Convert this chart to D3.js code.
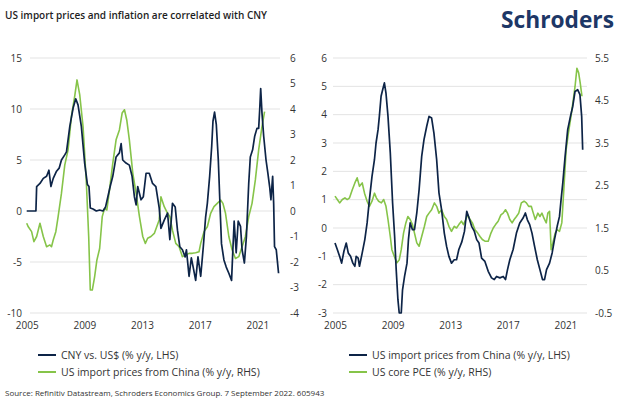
<!DOCTYPE html>
<html>
<head>
<meta charset="utf-8">
<script src="https://cdn.jsdelivr.net/npm/d3@7.9.0/dist/d3.min.js"></script>
<style>
  body { margin: 0; background: #fff; }
  svg { display: block; font-family: "Open Sans", sans-serif; }
</style>
</head>
<body>
<div id="chart"></div>
<script>
// readings are [decimal year, value]
const years = [2005, 2009, 2013, 2017, 2021];

const cnyVsUsd = [
  [2005.00, 0], [2005.64, 0], [2005.69, 2.4], [2005.92, 2.7], [2006.15, 3.2], [2006.38, 3.4],
  [2006.54, 4.0], [2006.68, 2.4], [2006.84, 3.2], [2007.07, 3.9], [2007.25, 4.2], [2007.41, 5.0],
  [2007.64, 5.5], [2007.76, 5.8], [2007.99, 8.3], [2008.22, 10.1], [2008.40, 11.0], [2008.56, 10.4],
  [2008.79, 8.3], [2009.02, 4.7], [2009.21, 2.6], [2009.32, 2.4], [2009.41, 0.3], [2009.60, 0.2],
  [2009.83, 0], [2010.06, 0.1], [2010.29, 0], [2010.47, 0.4], [2010.63, 1.4], [2010.79, 2.4],
  [2010.97, 3.4], [2011.20, 5.3], [2011.43, 5.7], [2011.55, 6.6], [2011.66, 5.0], [2011.89, 4.7],
  [2012.12, 4.5], [2012.31, 3.4], [2012.47, 1.4], [2012.59, 0.6], [2012.70, 2.4], [2012.93, 1.1],
  [2013.09, 1.4], [2013.28, 3.7], [2013.50, 3.7], [2013.73, 2.7], [2013.96, 2.4], [2014.19, 0.3],
  [2014.31, -1.7], [2014.54, -0.9], [2014.77, -0.2], [2014.93, -2.8], [2015.11, 0.75], [2015.30, 0.4],
  [2015.46, -1.9], [2015.62, -3.5], [2015.80, -3.8], [2015.99, -4.5], [2016.08, -3.8], [2016.26, -6.4],
  [2016.42, -4.6], [2016.56, -5.6], [2016.72, -6.8], [2016.88, -4.5], [2017.07, -6.4], [2017.25, -3.5],
  [2017.41, -0.6], [2017.53, 0.75], [2017.69, 3.4], [2017.83, 6.3], [2017.92, 8.8], [2018.03, 9.7],
  [2018.15, 8.5], [2018.29, 5.0], [2018.42, 0.1], [2018.51, -3.2], [2018.68, -4.8], [2018.84, -5.5],
  [2019.02, -6.1], [2019.21, -6.8], [2019.30, -3.8], [2019.39, -1.0], [2019.53, -4.1], [2019.67, -1.0],
  [2019.83, -1.5], [2019.94, -3.8], [2020.10, -5.1], [2020.24, -2.5], [2020.40, 2.7], [2020.51, 5.3],
  [2020.67, 6.0], [2020.81, 7.3], [2020.97, 8.1], [2021.09, 8.1], [2021.16, 9.9], [2021.23, 12.0],
  [2021.32, 9.6], [2021.44, 7.3], [2021.60, 5.0], [2021.73, 3.7], [2021.85, 2.4], [2021.94, 1.1],
  [2022.06, 3.4], [2022.13, 0.75], [2022.19, -3.5], [2022.31, -3.8], [2022.47, -6.1]
];

const importPricesRhs = [
  [2005.00, -0.48], [2005.11, -0.62], [2005.34, -0.81], [2005.50, -1.2], [2005.69, -1.0], [2005.92, -0.48],
  [2006.15, -1.0], [2006.38, -1.4], [2006.61, -1.33], [2006.72, -1.4], [2006.84, -1.14], [2007.02, -0.81],
  [2007.18, -0.22], [2007.41, 0.69], [2007.64, 1.8], [2007.87, 2.4], [2008.10, 3.7], [2008.33, 4.5],
  [2008.49, 5.14], [2008.68, 4.55], [2008.91, 3.3], [2009.14, 1.09], [2009.30, -1.0], [2009.41, -3.1],
  [2009.55, -3.1], [2009.71, -2.58], [2009.87, -1.92], [2010.06, -1.47], [2010.24, -0.22], [2010.40, 0.1],
  [2010.56, 0.04], [2010.74, 0.82], [2010.97, 1.87], [2011.20, 2.79], [2011.43, 3.18], [2011.62, 3.84],
  [2011.78, 3.97], [2011.94, 3.57], [2012.12, 2.79], [2012.36, 1.48], [2012.59, 0.69], [2012.82, -0.22],
  [2013.05, -1.0], [2013.23, -1.27], [2013.39, -1.07], [2013.62, -1.0], [2013.85, -0.88], [2014.19, -0.35],
  [2014.31, 0.56], [2014.54, 0.17], [2014.77, -0.09], [2014.93, -0.22], [2015.11, -0.75], [2015.34, -1.27],
  [2015.57, -1.4], [2015.80, -1.79], [2016.03, -1.73], [2016.26, -1.66], [2016.49, -1.66], [2016.72, -1.64],
  [2016.95, -1.6], [2017.07, -1.27], [2017.30, -0.81], [2017.53, -0.62], [2017.76, -0.09], [2017.99, 0.17],
  [2018.22, 0.3], [2018.45, 0.43], [2018.61, 0.3], [2018.79, -0.09], [2019.02, -1.0], [2019.25, -1.53],
  [2019.48, -1.86], [2019.71, -1.79], [2019.94, -1.4], [2020.17, -1.0], [2020.40, -0.22], [2020.63, 0.3],
  [2020.86, 1.22], [2021.09, 2.4], [2021.32, 3.31], [2021.50, 3.9]
];

const importPricesLhs = [
  [2005.00, -0.53], [2005.16, -0.76], [2005.32, -1.0], [2005.46, -1.24], [2005.62, -0.82], [2005.78, -0.53],
  [2005.92, -0.88], [2006.08, -1.0], [2006.24, -1.24], [2006.38, -1.35], [2006.47, -1.0], [2006.61, -1.06],
  [2006.70, -1.35], [2006.89, -0.88], [2007.07, -0.41], [2007.23, 0.18], [2007.39, 1.0], [2007.57, 1.82],
  [2007.74, 2.41], [2007.85, 3.0], [2007.99, 3.47], [2008.08, 3.94], [2008.20, 4.65], [2008.31, 4.88],
  [2008.43, 5.12], [2008.54, 4.76], [2008.68, 3.94], [2008.84, 2.65], [2009.00, 0.88], [2009.14, -0.29],
  [2009.25, -1.47], [2009.37, -2.53], [2009.46, -3.0], [2009.60, -3.0], [2009.69, -2.18], [2009.83, -1.71],
  [2010.00, -1.24], [2010.10, -0.41], [2010.22, 0.18], [2010.38, -0.06], [2010.52, -0.06], [2010.68, 0.53],
  [2010.84, 1.35], [2011.02, 2.53], [2011.18, 3.12], [2011.37, 3.59], [2011.53, 3.94], [2011.71, 3.88],
  [2011.87, 3.35], [2012.06, 2.41], [2012.22, 1.24], [2012.40, 0.65], [2012.59, -0.18], [2012.75, -0.65],
  [2012.91, -1.0], [2013.09, -1.24], [2013.28, -1.12], [2013.44, -1.12], [2013.60, -0.76], [2013.80, -0.5],
  [2013.99, -0.12], [2014.15, 0.59], [2014.31, 0.35], [2014.49, 0.06], [2014.68, -0.12], [2014.84, -0.41],
  [2015.00, -0.53], [2015.18, -1.06], [2015.41, -1.18], [2015.64, -1.53], [2015.87, -1.76], [2016.06, -1.82],
  [2016.22, -1.71], [2016.45, -1.76], [2016.68, -1.71], [2016.84, -1.82], [2016.98, -1.47], [2017.14, -1.12],
  [2017.37, -0.76], [2017.60, -0.18], [2017.83, 0.18], [2018.06, 0.35], [2018.22, 0.53], [2018.36, 0.29],
  [2018.52, 0.12], [2018.68, -0.18], [2018.86, -0.65], [2019.05, -1.12], [2019.23, -1.47], [2019.41, -1.82],
  [2019.55, -1.82], [2019.69, -1.47], [2019.90, -1.24], [2020.08, -0.88], [2020.24, -0.41], [2020.43, 0.06],
  [2020.59, 0.41], [2020.70, 1.0], [2020.82, 1.59], [2020.98, 2.53], [2021.16, 3.47], [2021.35, 3.94],
  [2021.51, 4.29], [2021.67, 4.82], [2021.85, 4.88], [2022.01, 4.71], [2022.13, 3.94], [2022.20, 2.76]
];

const corePce = [
  [2005.00, 2.25], [2005.16, 2.17], [2005.32, 2.09], [2005.51, 2.17], [2005.69, 2.21], [2005.85, 2.17],
  [2006.01, 2.21], [2006.20, 2.40], [2006.38, 2.56], [2006.54, 2.68], [2006.70, 2.48], [2006.89, 2.56],
  [2007.05, 2.32], [2007.23, 2.13], [2007.39, 2.01], [2007.57, 2.13], [2007.74, 2.32], [2007.87, 2.21],
  [2008.03, 2.13], [2008.22, 2.09], [2008.38, 2.17], [2008.54, 2.01], [2008.68, 1.70], [2008.84, 1.30],
  [2008.95, 0.99], [2009.12, 0.83], [2009.30, 0.68], [2009.46, 0.75], [2009.60, 0.99], [2009.76, 1.38],
  [2009.92, 1.62], [2010.06, 1.77], [2010.22, 1.70], [2010.38, 1.58], [2010.52, 1.38], [2010.68, 1.15],
  [2010.84, 1.07], [2011.02, 1.30], [2011.21, 1.54], [2011.37, 1.77], [2011.53, 1.85], [2011.71, 1.93],
  [2011.90, 2.09], [2012.06, 2.01], [2012.22, 1.85], [2012.40, 1.93], [2012.59, 1.77], [2012.75, 1.70],
  [2012.91, 1.54], [2013.09, 1.42], [2013.28, 1.54], [2013.44, 1.50], [2013.60, 1.58], [2013.78, 1.66],
  [2013.92, 1.58], [2014.08, 1.70], [2014.22, 1.81], [2014.38, 1.70], [2014.54, 1.62], [2014.72, 1.46],
  [2014.91, 1.38], [2015.07, 1.30], [2015.23, 1.23], [2015.41, 1.19], [2015.64, 1.19], [2015.83, 1.38],
  [2015.99, 1.50], [2016.15, 1.58], [2016.33, 1.66], [2016.52, 1.81], [2016.68, 1.85], [2016.84, 1.93],
  [2016.98, 1.85], [2017.14, 1.70], [2017.30, 1.62], [2017.44, 1.70], [2017.60, 1.77], [2017.76, 1.85],
  [2017.94, 2.09], [2018.13, 2.13], [2018.29, 2.09], [2018.45, 2.01], [2018.63, 2.01], [2018.77, 1.85],
  [2018.91, 1.70], [2019.09, 1.85], [2019.23, 1.77], [2019.37, 1.85], [2019.51, 1.73], [2019.67, 1.62],
  [2019.78, 1.85], [2019.90, 1.89], [2020.01, 0.99], [2020.13, 1.15], [2020.29, 1.38], [2020.43, 1.46],
  [2020.59, 1.42], [2020.75, 1.62], [2020.89, 2.40], [2021.05, 3.34], [2021.21, 3.74], [2021.39, 4.13],
  [2021.55, 4.52], [2021.67, 4.83], [2021.80, 5.26], [2021.92, 5.15], [2022.03, 4.91], [2022.15, 4.60]
];

const leftTicksLhs = [-10, -5, 0, 5, 10, 15];
const leftTicksRhs = [-4, -3, -2, -1, 0, 1, 2, 3, 4, 5, 6];
const rightTicksLhs = [-3, -2, -1, 0, 1, 2, 3, 4, 5, 6];
const rightTicksRhs = [-0.5, 0.5, 1.5, 2.5, 3.5, 4.5, 5.5];

const legendLeft = ["CNY vs. US$ (% y/y, LHS)", "US import prices from China (% y/y, RHS)"];
const legendRight = ["US import prices from China (% y/y, LHS)", "US core PCE (% y/y, RHS)"];

const NAVY = "#0d2447";
const GREEN = "#86c449";
const GRID = "#e3e3e3";
const TEXT = "#333";

const CONFIG = {
  WIDTH: 622,
  HEIGHT: 406,
  TOP: 58,
  BOTTOM: 313,
  AXIS_Y: 320
};

const svg = d3.select("#chart").append("svg")
  .attr("width", CONFIG.WIDTH)
  .attr("height", CONFIG.HEIGHT);

svg.append("text")
  .attr("x", 5).attr("y", 19)
  .attr("font-size", 11)
  .attr("font-weight", 600)
  .attr("fill", "#1e1e1e")
  .attr("textLength", 262)
  .attr("lengthAdjust", "spacingAndGlyphs")
  .text("US import prices and inflation are correlated with CNY");

svg.append("text")
  .attr("x", 501).attr("y", 28)
  .attr("font-size", 23)
  .attr("font-weight", 700)
  .attr("fill", "#1d3766")
  .attr("textLength", 113)
  .attr("lengthAdjust", "spacingAndGlyphs")
  .text("Schroders");

function drawPanel(p) {
  const g = svg.append("g");
  const x = d3.scaleLinear().domain([2005, 2022.5]).range(p.xRange);
  const yL = d3.scaleLinear().domain(p.lhsDomain).range([CONFIG.BOTTOM, CONFIG.TOP]);
  const yR = d3.scaleLinear().domain(p.rhsDomain).range([CONFIG.BOTTOM, CONFIG.TOP]);

  // gridlines follow the left axis
  g.selectAll(".grid")
    .data(p.lhsTicks)
    .join("line")
    .attr("x1", p.grid[0]).attr("x2", p.grid[1])
    .attr("y1", d => yL(d)).attr("y2", d => yL(d))
    .attr("stroke", GRID)
    .attr("stroke-width", 1);

  const left = g.append("g")
    .attr("transform", `translate(${p.lhsX},0)`)
    .call(d3.axisLeft(yL).tickValues(p.lhsTicks).tickSize(0).tickPadding(0).tickFormat(d => String(d)));

  const right = g.append("g")
    .attr("transform", `translate(${p.rhsX},0)`)
    .call(d3.axisRight(yR).tickValues(p.rhsTicks).tickSize(0).tickPadding(0).tickFormat(d => String(d)));

  const bottom = g.append("g")
    .attr("transform", `translate(0,${CONFIG.AXIS_Y})`)
    .call(d3.axisBottom(x).tickValues(years).tickSize(0).tickPadding(2).tickFormat(d3.format("d")));

  [left, right, bottom].forEach(a => {
    a.select(".domain").remove();
    a.selectAll("text")
      .attr("font-family", "Open Sans, sans-serif")
      .attr("font-size", 10)
      .attr("fill", TEXT);
  });

  const lineL = d3.line().x(d => x(d[0])).y(d => yL(d[1]));
  const lineR = d3.line().x(d => x(d[0])).y(d => yR(d[1]));

  g.append("path")
    .datum(p.green)
    .attr("d", lineR)
    .attr("fill", "none")
    .attr("stroke", GREEN)
    .attr("stroke-width", 1.6)
    .attr("stroke-linejoin", "round");

  g.append("path")
    .datum(p.navy)
    .attr("d", lineL)
    .attr("fill", "none")
    .attr("stroke", NAVY)
    .attr("stroke-width", 1.7)
    .attr("stroke-linejoin", "round");

  const legend = g.append("g").attr("transform", `translate(${p.legendX},355)`);
  p.legend.forEach((label, i) => {
    const y = i * 17;
    legend.append("line")
      .attr("x1", 0).attr("x2", 18)
      .attr("y1", y).attr("y2", y)
      .attr("stroke", i === 0 ? NAVY : GREEN)
      .attr("stroke-width", 2);
    legend.append("text")
      .attr("x", 23).attr("y", y + 4)
      .attr("font-size", 10.5)
      .attr("fill", TEXT)
      .text(label);
  });
}

drawPanel({
  xRange: [26.7, 279], grid: [30, 280],
  lhsDomain: [-10, 15], rhsDomain: [-4, 6],
  lhsTicks: leftTicksLhs, rhsTicks: leftTicksRhs,
  lhsX: 22, rhsX: 290,
  navy: cnyVsUsd, green: importPricesRhs,
  legend: legendLeft, legendX: 38
});

drawPanel({
  xRange: [335, 587], grid: [333, 587],
  lhsDomain: [-3, 6], rhsDomain: [-0.5, 5.5],
  lhsTicks: rightTicksLhs, rhsTicks: rightTicksRhs,
  lhsX: 327, rhsX: 595,
  navy: importPricesLhs, green: corePce,
  legend: legendRight, legendX: 349
});

svg.append("text")
  .attr("x", 5).attr("y", 396)
  .attr("font-size", 8)
  .attr("fill", TEXT)
  .text("Source: Refinitiv Datastream, Schroders Economics Group. 7 September 2022. 605943");
</script>
</body>
</html>
